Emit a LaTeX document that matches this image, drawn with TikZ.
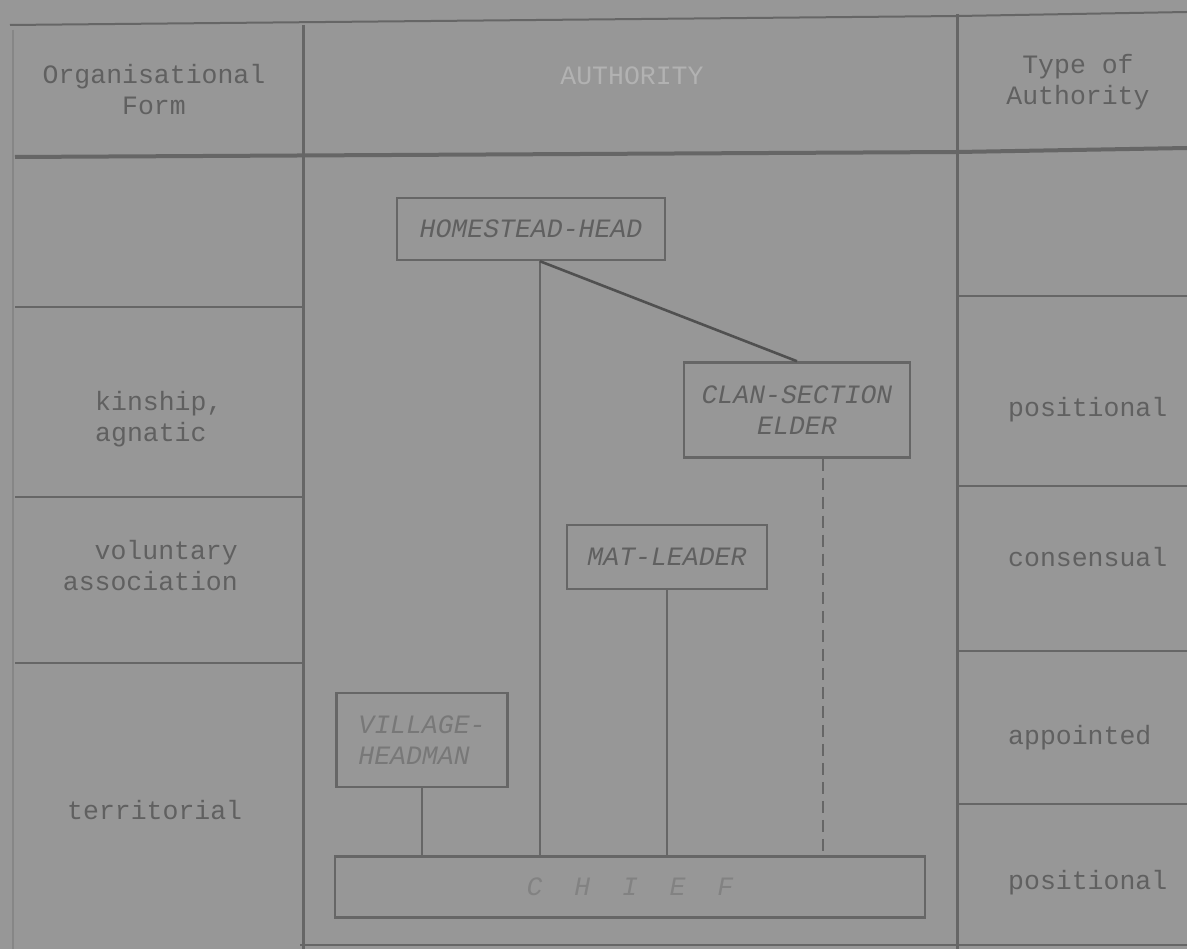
\documentclass[tikz,border=0pt]{standalone}
\usepackage{fontspec}
\setmonofont{Liberation Mono}
\usetikzlibrary{positioning}
\definecolor{paper}{RGB}{151,151,151}
\definecolor{ink}{RGB}{102,102,102}
\definecolor{type}{RGB}{96,96,96}
\definecolor{typefaint}{RGB}{120,120,120}
\definecolor{edge}{RGB}{134,134,134}
\tikzset{
  rowtext/.style={text=type, inner sep=0pt, font=\ttfamily\fontsize{26.5}{31}\selectfont},
  office/.style={draw=ink, line width=2.5pt, fill=paper, inner sep=0pt, text=type, align=center,
                 font=\ttfamily\itshape\fontsize{26.5}{31}\selectfont},
  tie/.style={draw=ink, line width=2.2pt}
}
\begin{document}
\begin{tikzpicture}[x=1pt, y=-1pt]
\fill[paper](0,0)rectangle(1187,949);
\useasboundingbox(0,0)rectangle(1187,949);
% frame of the table
\draw[ink, line width=2pt](10,25)--(958,16)--(1187,12);
\draw[ink, line width=4pt](15,157)--(958,152)--(1187,148);
\draw[edge, line width=1.5pt](13,30)--(13,949);
\draw[ink, line width=3pt](303,25)--(303,949);
\draw[ink, line width=3pt](957,14)--(957,949);
\draw[ink, line width=2pt](300,945)--(1187,945);
\foreach \y in {307,497,663}
{
    \draw[ink, line width=2pt](15,\y)--(302,\y);
}
\foreach \y in {296,486,651,804}
{
    \draw[ink, line width=2pt](958,\y)--(1187,\y);
}
% headings
\node[rowtext, align=center] (formhead) at (154,90) {Organisational\\Form};
\node[rowtext, text={rgb,255:red,178;green,178;blue,178}] (authhead) at (632,76) {AUTHORITY};
\node[rowtext, align=center] (typehead) at (1078,82) {Type of\\Authority};
% organisational forms
\node[rowtext, align=left, anchor=west] (kin) at (95,419) {kinship,\\agnatic};
\node[rowtext, align=right, anchor=east] (vol) at (238,566) {voluntary\\association};
\node[rowtext, anchor=west] (terr) at (67,810) {territorial};
% types of authority
\node[rowtext, anchor=west] (pos1) at (1008,410) {positional};
\node[rowtext, anchor=west] (cons) at (1008,557) {consensual};
\node[rowtext, anchor=west] (appt) at (1008,738) {appointed};
\node[rowtext, anchor=west] (pos2) at (1008,883) {positional};
% offices
\node[office, minimum width=268pt, minimum height=62pt] (hh) at (531,229) {HOMESTEAD-HEAD};
\node[office, minimum width=226pt, minimum height=95pt] (cse) at (797,410) {CLAN-SECTION\\ELDER};
\node[office, minimum width=200pt, minimum height=64pt] (ml) at (667,557) {MAT-LEADER};
\node[office, minimum width=171pt, minimum height=94pt, text=typefaint, align=left] (vh) at (422,740) {VILLAGE-\\HEADMAN};
\node[office, minimum width=590pt, minimum height=61pt, text={rgb,255:red,130;green,130;blue,130}] (chief) at (630,887) {C\ \ H\ \ I\ \ E\ \ F};
% ties to the chief
\draw[tie, line width=2.8pt]([xshift=9pt]hh.south)--([xshift=9pt]hh.south |- chief.north);
\draw[tie, line width=2.6pt, draw={rgb,255:red,80;green,80;blue,80}]([xshift=9pt]hh.south)--(cse.north);
\draw[tie](ml.south)--(ml.south |- chief.north);
\draw[tie](vh.south)--(vh.south |- chief.north);
\draw[tie, line width=1.6pt, dash pattern=on 12pt off 7pt]([xshift=26pt]cse.south)--([xshift=26pt]cse.south |- chief.north);
\end{tikzpicture}
\end{document}
